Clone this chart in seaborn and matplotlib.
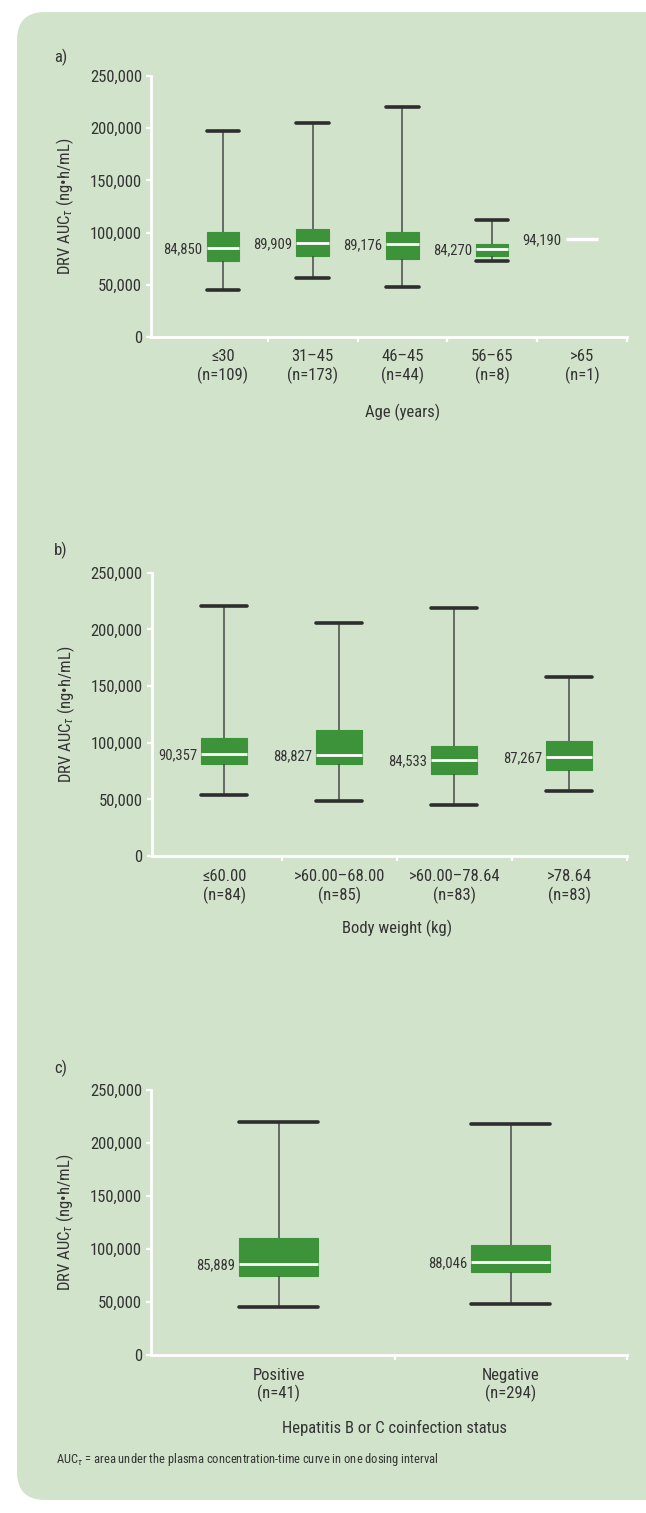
import matplotlib
matplotlib.use("Agg")
import matplotlib.pyplot as plt
from matplotlib import font_manager
from matplotlib.patches import FancyBboxPatch
from matplotlib.ticker import StrMethodFormatter
import numpy as np
import pandas as pd
import seaborn as sns

# ---- data: five-number summaries of DRV AUC (ng·h/mL) per subgroup ----
age_groups = ["≤30", "31–45", "46–45", "56–65", ">65"]
age_n = [109, 173, 44, 8, 1]
age_min = [45400, 56500, 47900, 73200, 94190]
age_q1 = [72800, 77600, 74400, 77600, 94190]
age_median = [84850, 89909, 89176, 84270, 94190]
age_q3 = [100600, 103800, 101000, 89500, 94190]
age_max = [197300, 205300, 220000, 111800, 94190]

weight_groups = ["≤60.00", ">60.00–68.00", ">60.00–78.64", ">78.64"]
weight_n = [84, 85, 83, 83]
weight_min = [54100, 48800, 45000, 57400]
weight_q1 = [81200, 81200, 72600, 75900]
weight_median = [90357, 88827, 84533, 87267]
weight_q3 = [104400, 110900, 96800, 101800]
weight_max = [220900, 205900, 219100, 158300]

hep_groups = ["Positive", "Negative"]
hep_n = [41, 294]
hep_min = [45600, 48400]
hep_q1 = [74500, 78000]
hep_median = [85889, 88046]
hep_q3 = [110700, 104000]
hep_max = [220100, 217900]

y_ticks = [0, 50000, 100000, 150000, 200000, 250000]

# ---- style ----
BG = "#d2e3cb"
GREEN = "#3c9339"
TEXT = "#333333"
WHITE = "#ffffff"

sns.set_style("ticks")
installed = {f.name for f in font_manager.fontManager.ttflist}
candidates = ["Roboto Condensed", "Fira Sans Condensed", "PT Sans Narrow",
              "Liberation Sans Narrow", "Liberation Sans"]
main_font = next((c for c in candidates if c in installed), "DejaVu Sans")
plt.rcParams["font.family"] = [main_font, "DejaVu Sans"]
plt.rcParams["mathtext.fontset"] = "custom"
plt.rcParams["mathtext.rm"] = main_font
plt.rcParams["mathtext.it"] = main_font + ":italic"
plt.rcParams["text.color"] = TEXT

fig = plt.figure(figsize=(6.46, 15.13), dpi=100, facecolor="white")
fig.add_artist(FancyBboxPatch((0.17, 0.13), 7.0, 14.88,
                              boxstyle="round,pad=0,rounding_size=0.28",
                              transform=fig.dpi_scale_trans,
                              facecolor=BG, edgecolor="none", zorder=-10))

ylabel = r"DRV AUC$_{\tau}$ (ng•h/mL)"


def panel(rect, groups, ns, mins, q1s, meds, q3s, maxs, width, xlim, xlabel, label_y):
    ax = fig.add_axes(rect)
    ax.set_facecolor("none")

    rows = []
    for g, n, lo, a, m, b, hi in zip(groups, ns, mins, q1s, meds, q3s, maxs):
        if n > 1:
            for v in (lo, a, m, b, hi):
                rows.append({"group": g, "auc": v})
    df = pd.DataFrame(rows)

    sns.boxplot(data=df, x="group", y="auc", order=groups, ax=ax,
                whis=(0, 100), width=width, color=GREEN, linecolor=GREEN,
                linewidth=0.8, saturation=1, showfliers=False,
                capwidths=width,
                medianprops={"color": WHITE, "linewidth": 2.0},
                whiskerprops={"color": "#4a4a4a", "linewidth": 1.1},
                capprops={"color": "#2e2e2e", "linewidth": 2.6})

    # groups with a single observation: only a median line
    for i, (n, m) in enumerate(zip(ns, meds)):
        if n == 1:
            ax.hlines(m, i - width / 2, i + width / 2, color=WHITE, linewidth=2.4, zorder=3)

    # median value labels
    for i, m in enumerate(meds):
        ax.annotate(f"{m:,}", xy=(i - width / 2, m), xytext=(-3, -1),
                    textcoords="offset points", ha="right", va="center",
                    fontsize=10.5, color=TEXT)

    ax.set_xlim(*xlim)
    ax.set_ylim(0, 250000)
    ax.set_yticks(y_ticks)
    ax.yaxis.set_major_formatter(StrMethodFormatter("{x:,.0f}"))
    ax.set_xticks(range(len(groups)))
    ax.set_xticklabels([f"{g}\n(n={n})" for g, n in zip(groups, ns)])
    ax.set_xticks(np.arange(0.5, len(groups), 1.0), minor=True)

    ax.tick_params(axis="x", which="major", length=0, pad=9, labelsize=12, labelcolor=TEXT)
    ax.tick_params(axis="x", which="minor", length=3.5, width=1.6, color=WHITE, direction="out")
    ax.tick_params(axis="y", which="major", length=3.5, width=1.6, color=WHITE,
                   pad=3, labelsize=12, labelcolor=TEXT)

    for s in ("top", "right"):
        ax.spines[s].set_visible(False)
    for s in ("left", "bottom"):
        ax.spines[s].set_color(WHITE)
        ax.spines[s].set_linewidth(2.0)

    ax.set_ylabel(ylabel, fontsize=12, color=TEXT, labelpad=10)
    ax.set_xlabel(xlabel, fontsize=12, color=TEXT, va="top")
    centre = (len(groups) - 1) / 2
    ax.xaxis.set_label_coords((centre - xlim[0]) / (xlim[1] - xlim[0]), label_y)
    return ax


panel([0.2337, 0.7773, 0.7369, 0.1725], age_groups, age_n, age_min, age_q1,
      age_median, age_q3, age_max, 0.36, (-0.8, 4.5), "Age (years)", -0.255)
panel([0.2348, 0.4342, 0.7358, 0.1873], weight_groups, weight_n, weight_min, weight_q1,
      weight_median, weight_q3, weight_max, 0.40, (-0.63, 3.5), "Body weight (kg)", -0.225)
panel([0.2337, 0.1044, 0.7369, 0.1752], hep_groups, hep_n, hep_min, hep_q1,
      hep_median, hep_q3, hep_max, 0.34, (-0.55, 1.5), "Hepatitis B or C coinfection status", -0.245)

for lbl, ypx in (("a)", 57), ("b)", 550), ("c)", 1068)):
    fig.text(54 / 646, 1 - ypx / 1513, lbl, fontsize=12, color=TEXT, va="center")

fig.text(56 / 646, 1 - 1460 / 1513,
         r"AUC$_{\tau}$ = area under the plasma concentration-time curve in one dosing interval",
         fontsize=9, color=TEXT, va="center")

fig.savefig("out.png", dpi=100, facecolor="white")
